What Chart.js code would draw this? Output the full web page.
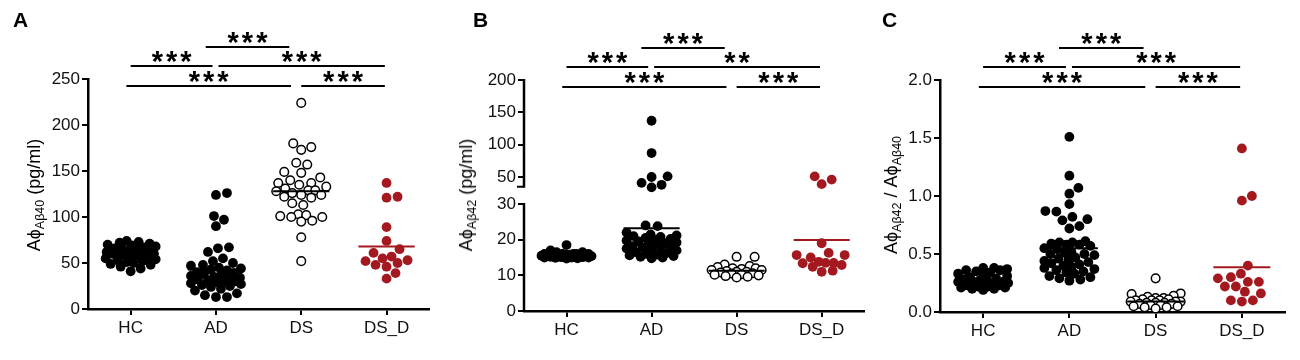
<!DOCTYPE html>
<html><head><meta charset="utf-8">
<script src="https://cdn.jsdelivr.net/npm/chart.js@4.4.1/dist/chart.umd.min.js"></script>
<style>
html,body{margin:0;padding:0;background:#fff;}
#wrap{position:relative;width:1300px;height:360px;overflow:hidden;font-family:"Liberation Sans",Arial,Helvetica,sans-serif;}
canvas{position:absolute;top:0;}
.letter{position:absolute;top:10px;font-weight:bold;font-size:21px;line-height:20px;color:#000;}
.ytitle{position:absolute;white-space:nowrap;font-size:18px;line-height:18px;color:#000;transform:translate(-50%,-50%) rotate(-90deg);}
.ytitle sub{font-size:12.5px;vertical-align:-4px;line-height:0;}
</style></head>
<body>
<div id="wrap">
  <canvas id="cA" width="435" height="360" style="left:0px"></canvas>
  <canvas id="cB" width="435" height="360" style="left:435px"></canvas>
  <canvas id="cC" width="430" height="360" style="left:870px"></canvas>
  <div class="letter" style="left:13px">A</div>
  <div class="letter" style="left:473px">B</div>
  <div class="letter" style="left:882px">C</div>
  <div class="ytitle" style="left:34px;top:195px">Aϕ<sub>Aβ40</sub> (pg/ml)</div>
  <div class="ytitle" style="left:466px;top:195px">Aϕ<sub>Aβ42</sub> (pg/ml)</div>
  <div class="ytitle" style="left:891px;top:195px">Aϕ<sub>Aβ42</sub> / Aϕ<sub>Aβ40</sub></div>
</div>
<script>
// ---------- DATA ----------
const categories = ['HC', 'AD', 'DS', 'DS_D'];

// Panel A: Aphi Abeta40 (pg/ml)
const a_HC = [74,73,72,71,70,69,68,67,66,65,64,63,63,62,62,61,61,60,60,59,58,57,56,55,54,53,52,51,50,49,48,46,44,41];
const a_AD = [126,124,101,97,90,67,66,62,55,52,50,48,47,45,44,43,42,40,39,38,37,36,35,34,33,32,31,30,30,29,28,27,26,25,24,22,20,17,15,13,13];
const a_DS = [224,180,176,173,159,157,149,148,143,140,137,137,135,133,131,129,129,128,126,124,124,122,121,115,113,103,102,101,100,100,96,95,78,52];
const a_DSD = [137,122,121,89,74,65,61,57,55,53,52,50,48,46,39,33];
const a_means = [60, 43, 128, 68];
const a_yTicks = [0, 50, 100, 150, 200, 250];

// Panel B: Aphi Abeta42 (pg/ml)
const b_HC = [18.5,17,16.5,16.5,16,16,16,16,16,15.8,15.8,15.6,15.6,15.5,15.5,15.5,15.4,15.4,15.3,15.3,15.2,15.2,15.1,15.1,15,15,15,14.9,14.8,14.7];
const b_AD = [137,87,51,50,41,38,34,24,23.8,22,21.5,21.2,21,20.8,20.5,20.2,20,19.8,19.5,19.2,19,18.8,18.5,18.2,18,17.8,17.5,17.2,17,16.8,16.5,16.3,16,15.8,15.6,15.4,15.2,15,14.8];
const b_DS = [15.2,15.2,13,12.6,12.3,12,12,11.8,11.5,11.5,11.2,11,11,10.8,10.6,10.5,10.3,10.2,10,9.8,9.6,9.4];
const b_DSD = [51,46,39,19,16.3,15.7,15.7,15,13.8,13.5,13.5,13.4,12.9,12.4,11.3,11];
const b_means = [15.6, 23.2, 11.3, 19.9];
const b_yTicks = [0, 10, 20, 30, 50, 100, 150, 200];

// Panel C: ratio Abeta42 / Abeta40
const c_HC = [0.38,0.38,0.37,0.36,0.36,0.35,0.34,0.33,0.32,0.31,0.30,0.29,0.28,0.27,0.27,0.26,0.26,0.25,0.25,0.24,0.24,0.23,0.23,0.22,0.22,0.21,0.21,0.20,0.20,0.19];
const c_AD = [1.51,1.175,1.07,1.02,0.93,0.87,0.865,0.82,0.80,0.79,0.74,0.72,0.61,0.60,0.60,0.59,0.58,0.58,0.57,0.55,0.54,0.52,0.51,0.50,0.50,0.49,0.47,0.46,0.45,0.44,0.43,0.42,0.41,0.40,0.39,0.38,0.37,0.36,0.35,0.34,0.33,0.31,0.30,0.29,0.28,0.27];
const c_DS = [0.29,0.16,0.155,0.14,0.13,0.12,0.12,0.11,0.11,0.10,0.10,0.10,0.09,0.09,0.09,0.08,0.08,0.08,0.07,0.07,0.06,0.06,0.05,0.05,0.04,0.04,0.03];
const c_DSD = [1.41,1.0,0.96,0.40,0.33,0.30,0.29,0.26,0.26,0.22,0.22,0.175,0.16,0.10,0.09,0.10];
const c_means = [0.26, 0.55, 0.09, 0.385];
const c_yTicks = [0, 0.5, 1.0, 1.5, 2.0];

// significance labels (brackets: AD-DS, HC-AD, AD-DS_D, HC-DS, DS-DS_D)
const a_sig = ['***', '***', '***', '***', '***'];
const b_sig = ['***', '***', '**', '***', '***'];
const c_sig = ['***', '***', '***', '***', '***'];

// ---------- STYLE / LAYOUT ----------
const fillColors = ['#000000', '#000000', '#ffffff', '#a3191f'];
const lineColors = ['#000000', '#000000', '#000000', '#a3191f'];
const sigSpans = [[0.88, 1.86], [0.0, 0.96], [1.03, 2.98], [-0.05, 1.88], [2.0, 2.98]];
const sigLevel = [0, 1, 1, 2, 2];
const sigOffsets = [-32, -13, 7];
const FONT = '"Liberation Sans", Arial, Helvetica, sans-serif';
const brk = { lowMax: 30, lowFrac: 0.463, highMin: 35, highFrac: 0.538 };

// broken linear scale for panel B
class BrokenLinearScale extends Chart.LinearScale {
  _toDec(v) {
    if (v <= brk.lowMax) return (v - this.min) / (brk.lowMax - this.min) * brk.lowFrac;
    return brk.highFrac + (v - brk.highMin) / (this.max - brk.highMin) * (1 - brk.highFrac);
  }
  getPixelForValue(v) {
    if (v === null || v === undefined || isNaN(v)) return NaN;
    return this.getPixelForDecimal(this._toDec(v));
  }
  getValueForPixel(p) {
    const d = this.getDecimalForPixel(p);
    if (d <= brk.lowFrac) return this.min + d / brk.lowFrac * (brk.lowMax - this.min);
    return brk.highMin + (d - brk.highFrac) / (1 - brk.highFrac) * (this.max - brk.highMin);
  }
}
BrokenLinearScale.id = 'brokenLinear';
BrokenLinearScale.defaults = Chart.LinearScale.defaults;
Chart.register(BrokenLinearScale);

const sigPlugin = {
  id: 'sig',
  afterDraw(chart) {
    const labels = chart.options.plugins.sig.labels;
    const ctx = chart.ctx, xs = chart.scales.x, top = chart.chartArea.top;
    ctx.save();
    sigSpans.forEach((sp, k) => {
      const y = top + sigOffsets[sigLevel[k]];
      const x1 = xs.getPixelForValue(sp[0]), x2 = xs.getPixelForValue(sp[1]);
      ctx.strokeStyle = '#000'; ctx.lineWidth = 2;
      ctx.beginPath(); ctx.moveTo(x1, y); ctx.lineTo(x2, y); ctx.stroke();
      ctx.font = 'bold 29px ' + FONT;
      ctx.fillStyle = '#000';
      ctx.letterSpacing = '3px';
      ctx.textAlign = 'center'; ctx.textBaseline = 'alphabetic';
      const m = ctx.measureText('*');
      const base = (y - 9) + (m.actualBoundingBoxAscent - m.actualBoundingBoxDescent) / 2;
      ctx.fillText(labels[k], (x1 + x2) / 2 + 1.5, base);
    });
    ctx.restore();
  }
};

const breakPlugin = {
  id: 'brk',
  afterDraw(chart) {
    if (!chart.options.plugins.brk || !chart.options.plugins.brk.on) return;
    const ctx = chart.ctx, ys = chart.scales.y, x = chart.chartArea.left;
    ctx.save();
    ctx.strokeStyle = '#000'; ctx.lineWidth = 2.5; ctx.lineCap = 'butt';
    ctx.beginPath(); ctx.moveTo(x, ys.getPixelForValue(0) + 1); ctx.lineTo(x, ys.getPixelForValue(brk.lowMax) - 1); ctx.stroke();
    const yh = ys.getPixelForValue(brk.highMin);
    ctx.beginPath(); ctx.moveTo(x, yh + 1); ctx.lineTo(x, ys.getPixelForValue(ys.max) - 1); ctx.stroke();
    ctx.lineWidth = 2;
    ctx.beginPath(); ctx.moveTo(x - 7, yh); ctx.lineTo(x, yh); ctx.stroke();
    ctx.restore();
  }
};

function swarmOffsets(vals, yPix, r, maxOff) {
  const idx = vals.map((v, i) => i).sort((a, b) => vals[a] - vals[b]);
  const placed = [];
  const offs = new Array(vals.length).fill(0);
  const minD = 2 * r + 0.6;
  for (const i of idx) {
    const y = yPix(vals[i]);
    let best = 0, bestScore = -1;
    for (let k = 0; k <= 2 * maxOff; k++) {
      const off = k === 0 ? 0 : (k % 2 === 1 ? (k + 1) / 2 : -k / 2);
      let dmin = Infinity;
      for (const p of placed) {
        const d = Math.hypot(p.x - off, p.y - y);
        if (d < dmin) dmin = d;
      }
      if (dmin >= minD) { best = off; bestScore = Infinity; break; }
      if (dmin > bestScore + 0.3) { bestScore = dmin; best = off; }
    }
    placed.push({ x: best, y });
    offs[i] = best;
  }
  return offs;
}

function makePanel(id, p) {
  const datasets = [];
  p.groups.forEach((vals, gi) => {
    datasets.push({
      data: vals.map(v => ({ x: gi, y: v })),
      pointRadius: gi === 2 ? 4.3 : 4.9,
      pointBorderWidth: gi === 2 ? 1.5 : 0,
      pointBackgroundColor: fillColors[gi],
      pointBorderColor: lineColors[gi],
      showLine: false,
      order: 1
    });
  });
  p.means.forEach((m, gi) => {
    datasets.push({
      data: [{ x: gi - 0.33, y: m }, { x: gi + 0.33, y: m }],
      showLine: true, borderColor: lineColors[gi], borderWidth: 2,
      pointRadius: 0, fill: false, order: 0
    });
  });
  const tickFont = { family: FONT, size: 17 };
  const chart = new Chart(document.getElementById(id), {
    type: 'scatter',
    data: { datasets },
    options: {
      responsive: false, animation: false, devicePixelRatio: 1,
      layout: { padding: { top: p.top, right: p.right, left: 0, bottom: 0 } },
      plugins: { legend: { display: false }, tooltip: { enabled: false },
                 sig: { labels: p.sig }, brk: { on: !!p.broken } },
      scales: {
        x: {
          type: 'linear', min: -0.5, max: 3.5,
          afterBuildTicks: s => { s.ticks = categories.map((c, i) => ({ value: i })); },
          afterFit: s => { s.height = p.xh; },
          ticks: { callback: v => categories[v], font: tickFont, color: '#111', padding: 3, autoSkip: false, maxRotation: 0 },
          grid: { display: true, drawOnChartArea: false, drawTicks: true, tickLength: 6, color: '#000', lineWidth: 2 },
          border: { display: true, color: '#000', width: 2.5 }
        },
        y: {
          type: p.broken ? 'brokenLinear' : 'linear', min: 0, max: p.ymax,
          afterBuildTicks: s => { s.ticks = p.yTicks.map(v => ({ value: v })); },
          afterFit: s => { s.width = p.yw; },
          ticks: { callback: v => p.fmt(v), font: tickFont, color: '#111', padding: 2, autoSkip: false },
          grid: { display: true, drawOnChartArea: false, drawTicks: true, tickLength: 6, color: '#000', lineWidth: 2 },
          border: { display: !p.broken, color: '#000', width: 2.5 }
        }
      }
    },
    plugins: [sigPlugin, breakPlugin]
  });
  const xs = chart.scales.x, ys = chart.scales.y;
  const ppu = xs.getPixelForValue(1) - xs.getPixelForValue(0);
  p.groups.forEach((vals, gi) => {
    const offs = swarmOffsets(vals, v => ys.getPixelForValue(v), 4.8, 25);
    chart.data.datasets[gi].data = vals.map((v, i) => ({ x: gi + offs[i] / ppu, y: v }));
  });
  chart.update('none');
  return chart;
}

makePanel('cA', { groups: [a_HC, a_AD, a_DS, a_DSD], means: a_means, yTicks: a_yTicks, ymax: 250,
  fmt: v => String(v), sig: a_sig, top: 79, right: 3, yw: 88, xh: 51 });
makePanel('cB', { groups: [b_HC, b_AD, b_DS, b_DSD], means: b_means, yTicks: b_yTicks, ymax: 200,
  fmt: v => String(v), sig: b_sig, top: 80, right: 3, yw: 89, xh: 49, broken: true });
makePanel('cC', { groups: [c_HC, c_AD, c_DS, c_DSD], means: c_means, yTicks: c_yTicks, ymax: 2.0,
  fmt: v => v.toFixed(1), sig: c_sig, top: 80, right: 15, yw: 70, xh: 48 });
</script>
</body></html>
